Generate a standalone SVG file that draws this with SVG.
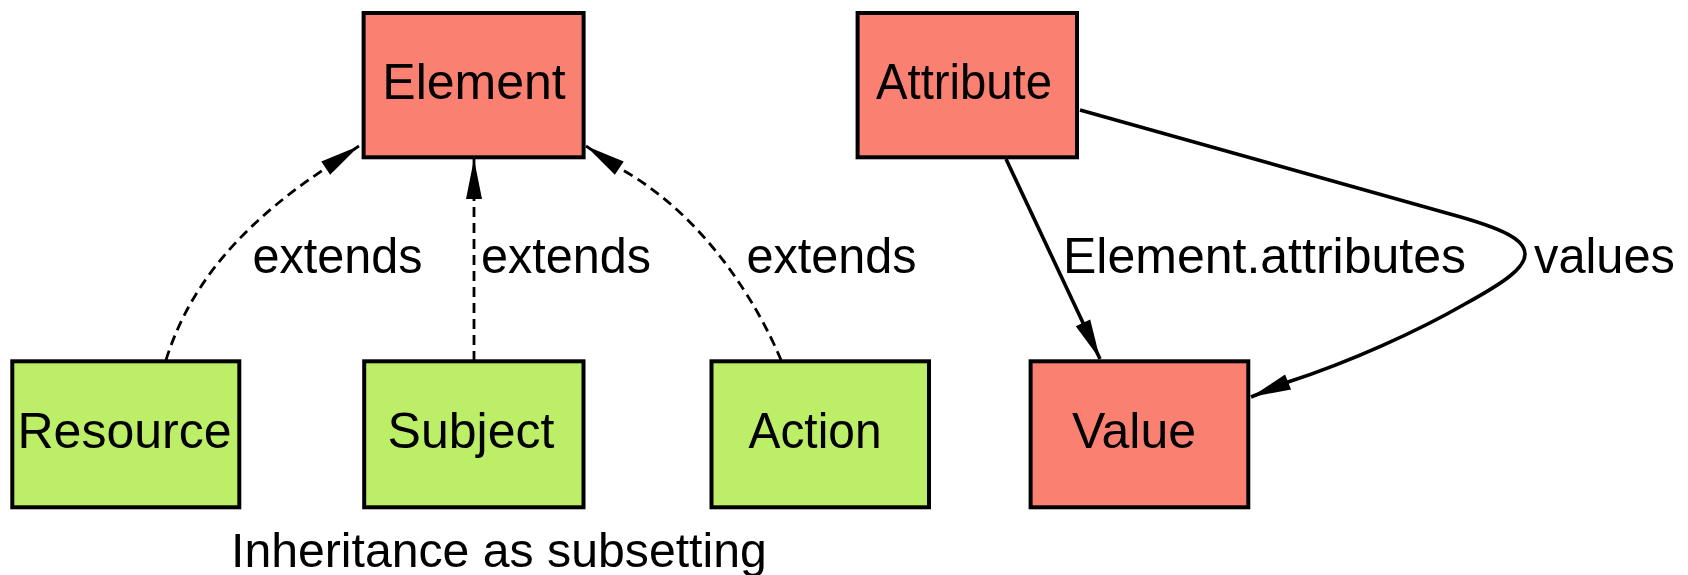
<svg xmlns="http://www.w3.org/2000/svg" width="1688" height="575" viewBox="0 0 1688 575">
<style>
  .box { stroke: #000; stroke-width: 4; }
  .red { fill: #FA8072; }
  .green { fill: #BCEE68; }
  .lbl { font-family: "Liberation Sans", Arial, sans-serif; font-size: 50px; fill: #000; }
  .mid { text-anchor: middle; }
  .edge { fill: none; stroke: #000; stroke-width: 3.6; }
  .dash { stroke-dasharray: 10 6; stroke-width: 2.8; }
</style>
<defs>
  <marker id="arr" markerUnits="userSpaceOnUse" markerWidth="42" markerHeight="18" refX="40" refY="8" orient="auto" overflow="visible">
    <path d="M0,0 L40,8 L0,16 Z" fill="#000"/>
  </marker>
</defs>
<rect width="1688" height="575" fill="#fff"/>

<g id="connectors">
  <g id="e-resource-element">
    <path class="edge dash" d="M166,360 C185,300 225,235 326,168 L359,146" marker-end="url(#arr)"/>
    <text class="lbl" x="252.5" y="273" textLength="170" lengthAdjust="spacingAndGlyphs">extends</text>
  </g>
  <g id="e-subject-element">
    <path class="edge dash" d="M474,361 L474,159" marker-end="url(#arr)"/>
    <text class="lbl" x="481" y="273" textLength="170" lengthAdjust="spacingAndGlyphs">extends</text>
  </g>
  <g id="e-action-element">
    <path class="edge dash" d="M781,360 C758,305 705,215 619,168 L586,146" marker-end="url(#arr)"/>
    <text class="lbl" x="746.5" y="273" textLength="170" lengthAdjust="spacingAndGlyphs">extends</text>
  </g>
  <g id="e-attribute-value-1">
    <path class="edge" d="M1006,159 L1100,359" marker-end="url(#arr)"/>
    <text class="lbl" x="1063" y="273">Element.attributes</text>
  </g>
  <g id="e-attribute-value-2">
    <path class="edge" d="M1080,110 L1450,214 C1505,229 1525,240 1525,254 C1525,268 1505,282 1465,304 C1418,331 1350,362 1288,382 L1251,397" marker-end="url(#arr)"/>
    <text class="lbl" x="1534" y="273" textLength="141" lengthAdjust="spacingAndGlyphs">values</text>
  </g>
</g>

<g id="element">
  <rect class="box red" x="363.6" y="13" width="220" height="144.3"/>
  <text class="lbl mid" x="474" y="99">Element</text>
</g>
<g id="attribute">
  <rect class="box red" x="857.6" y="13" width="219.4" height="144.3"/>
  <text class="lbl mid" x="964" y="99" textLength="176" lengthAdjust="spacingAndGlyphs">Attribute</text>
</g>
<g id="resource">
  <rect class="box green" x="12.3" y="361.3" width="227" height="146"/>
  <text class="lbl mid" x="124.5" y="448">Resource</text>
</g>
<g id="subject">
  <rect class="box green" x="364.2" y="361.3" width="219.3" height="146"/>
  <text class="lbl mid" x="471" y="448">Subject</text>
</g>
<g id="action">
  <rect class="box green" x="711.5" y="361.3" width="217.5" height="146"/>
  <text class="lbl mid" x="815" y="448" textLength="133" lengthAdjust="spacingAndGlyphs">Action</text>
</g>
<g id="value">
  <rect class="box red" x="1030.6" y="361.3" width="217.7" height="146"/>
  <text class="lbl mid" x="1134" y="448" textLength="124" lengthAdjust="spacingAndGlyphs">Value</text>
</g>

<text class="lbl" x="231" y="567" style="font-size:48.2px">Inheritance as subsetting</text>
</svg>
